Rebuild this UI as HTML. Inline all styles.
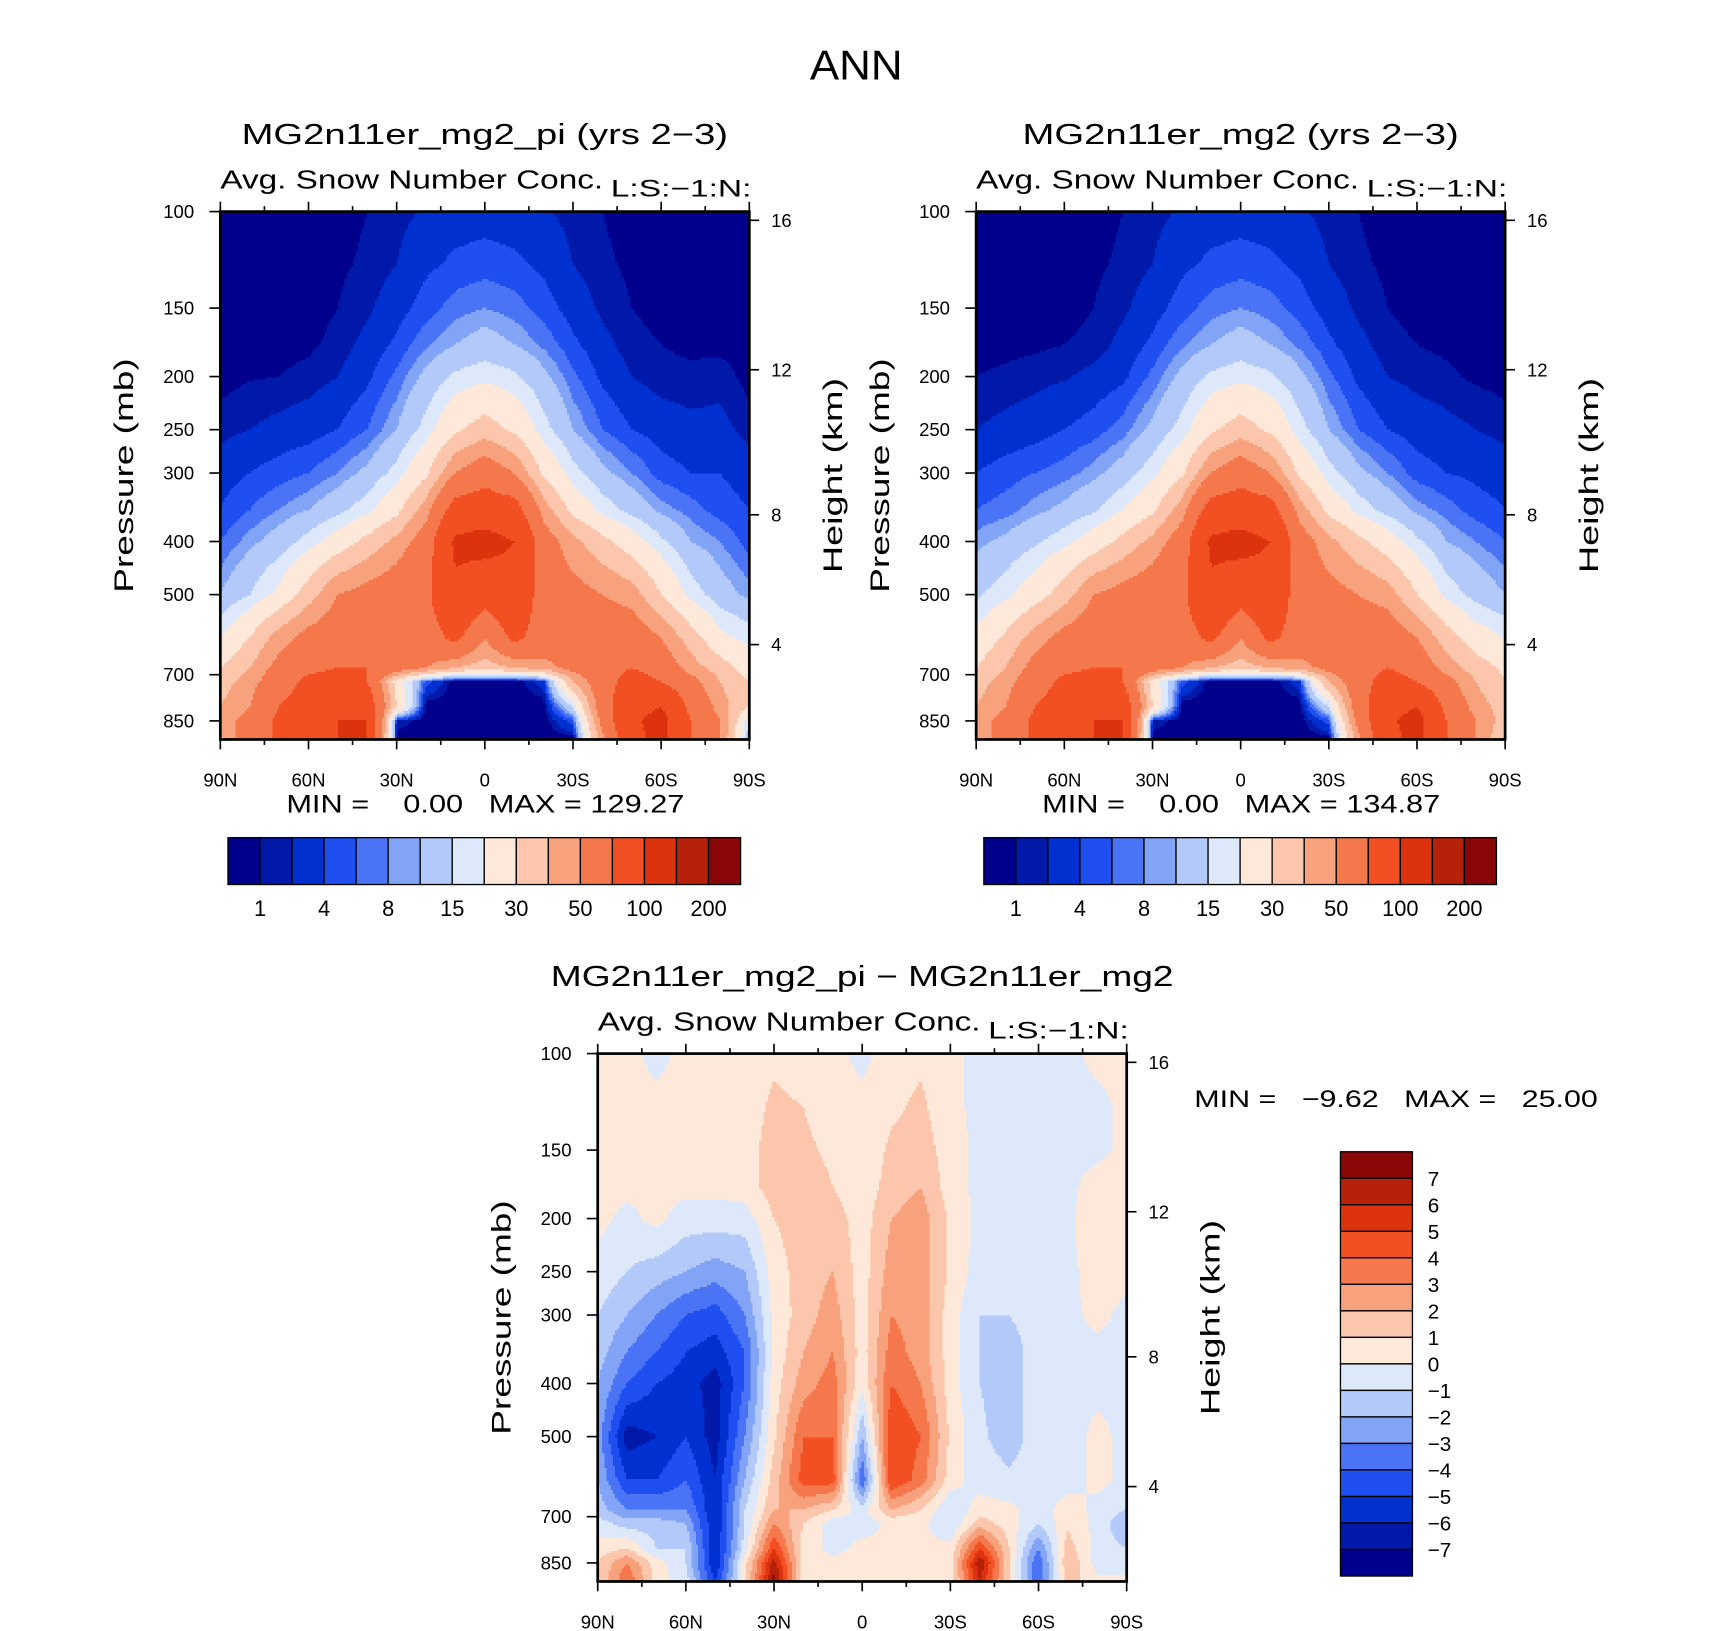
<!DOCTYPE html>
<html><head><meta charset="utf-8">
<style>
html,body{margin:0;padding:0;background:#fff;}
svg{display:block;font-family:"Liberation Sans","DejaVu Sans",sans-serif;}
</style></head>
<body>
<svg id="fig" width="1710" height="1631" viewBox="0 0 1567.8 1495.4" xmlns="http://www.w3.org/2000/svg">
<rect width="1567.8" height="1495.4" fill="#fff"/>
<text x="785" y="73" font-size="38" text-anchor="middle" textLength="85" lengthAdjust="spacingAndGlyphs">ANN</text>
<g id="layer"></g>
</svg>
<script>
// ---- data ----
const lats = [90,80,70,60,50,40,30,20,10,0,-10,-20,-30,-40,-50,-60,-70,-80,-90];
const plevs = [100,125,150,175,200,250,300,350,400,500,600,680,720,800,850,920];
const topLevels = [1,2,4,6,8,10,15,20,30,40,50,70,100,150,200];
const topLabels = ["1","4","8","15","30","50","100","200"];
const diffLevels = [-7,-6,-5,-4,-3,-2,-1,0,1,2,3,4,5,6,7];
const diffLabels = ["7","6","5","4","3","2","1","0","\u22121","\u22122","\u22123","\u22124","\u22125","\u22126","\u22127"];
const xTickLabels = ["90N","60N","30N","0","30S","60S","90S"];
const xTickLats = [90,60,30,0,-30,-60,-90];
const pTicks = [100,150,200,250,300,400,500,700,850];
const hTicks = [16,12,8,4];
const hTickOffsets = [8,145,278,397];
const fieldPi = [
[0.5,0.5,0.5,0.5,0.6,1,1.5,2.2,2.8,3,2.8,2.2,1.5,1,0.6,0.5,0.5,0.5,0.5],
[0.5,0.5,0.5,0.5,0.8,1.2,2,3.5,4.5,5,4.5,3.5,2,1.2,0.8,0.5,0.5,0.5,0.5],
[0.5,0.5,0.5,0.6,1,1.7,3,5,7,8,7,5,3,1.7,1,0.7,0.5,0.5,0.5],
[0.5,0.6,0.7,0.8,1.3,2.5,4.5,7.5,10,12,10,7.5,4.5,2.5,1.3,1,0.8,0.7,0.5],
[0.6,0.9,1,1.3,2,3.5,6.5,11,16,18,16,11,6.5,3.5,2,1.3,1.2,1.5,0.6],
[1.5,2,2.5,3,4,6,10,17,28,35,28,17,10,6,4,3,2.5,2.5,1.5],
[3,4,5,6,8,11,17,28,50,60,50,28,17,11,8,5,4,4,3],
[4,6,8,10,13,18,27,45,80,85,80,45,27,18,13,9,7,5,4],
[6,9,12,17,24,33,43,58,105,110,100,58,43,33,24,16,10,8,5],
[10,15,22,35,50,55,60,65,95,80,90,60,55,50,45,30,18,12,9],
[20,30,45,55,60,60,60,60,75,50,75,60,60,60,60,50,35,22,18],
[30,40,55,65,70,70,60,50,40,35,40,45,55,60,70,60,45,35,25],
[35,45,60,75,80,70,25,5,0,0,0,3,40,60,80,70,55,40,30],
[40,50,70,80,90,85,30,0,0,0,0,0,15,60,90,100,65,45,30],
[45,55,75,85,100,100,2,0,0,0,0,0,5,55,95,110,70,50,15],
[45,55,75,85,100,100,0,0,0,0,0,0,0,45,90,110,70,50,10]];
const fieldMg2 = [
[0.5,0.5,0.5,0.5,0.6,1,1.5,2.2,2.8,3,2.8,2.2,1.5,1,0.6,0.5,0.5,0.5,0.5],
[0.5,0.5,0.5,0.5,0.8,1.2,2,3.5,4.5,5,4.5,3.5,2,1.2,0.8,0.5,0.5,0.5,0.5],
[0.5,0.5,0.5,0.6,1,1.7,3,5,7,8,7,5,3,1.7,1,0.7,0.5,0.5,0.5],
[0.6,0.7,0.8,1,1.3,2.5,4.5,7.5,10,12,10,7.5,4.5,2.5,1.3,1,0.8,0.7,0.5],
[1,1.2,1.5,1.8,2.5,3.5,6.5,11,16,18,16,11,6.5,3.5,2,1.5,1.2,0.8,0.6],
[2,2.5,3,4,5,7,11,17,28,35,28,17,10,6,4,3,2.5,2,1.5],
[4,5,6,7,9,12,18,28,50,60,50,28,17,11,8,5,4,3.5,3],
[6,7,9,11,14,20,28,45,80,85,80,45,27,18,13,9,7,5,4],
[9,11,14,18,24,33,43,58,105,110,100,58,43,33,24,16,10,8,6],
[14,18,25,35,50,55,60,65,95,80,90,60,55,50,45,30,18,13,10],
[22,32,45,55,60,60,60,60,75,50,75,60,60,60,60,50,35,24,20],
[30,40,55,65,70,70,60,50,40,35,40,45,55,60,70,60,45,35,28],
[35,45,60,75,80,70,25,5,0,0,0,3,40,60,80,70,55,40,30],
[40,50,70,80,90,85,30,0,0,0,0,0,15,60,90,100,65,45,35],
[45,55,75,85,100,100,2,0,0,0,0,0,5,55,95,110,70,50,35],
[45,55,75,85,100,100,0,0,0,0,0,0,0,45,90,110,70,50,30]];
const fieldDiff = [
[0.3,0.3,-0.3,0.3,0.3,0.5,0.8,0.5,0.3,-0.3,0.5,0.8,0.3,-0.3,-0.3,-0.3,-0.3,0.3,0.3],
[0.3,0.3,0.3,0.3,0.3,0.5,1.2,1,0.5,0.3,0.8,1.2,0.3,-0.3,-0.3,-0.3,-0.3,-0.3,0.3],
[0.3,0.3,0.3,0.3,0.3,0.5,1.5,1.2,0.8,0.3,1.2,1.5,0.5,-0.3,-0.3,-0.3,-0.3,-0.3,0.3],
[0.3,0.3,0.3,0.3,0.3,0.5,1.5,1.5,1,0.3,1.5,2,0.5,-0.3,-0.3,-0.3,-0.3,0.5,0.3],
[0.3,-0.3,0.3,-0.5,-0.5,-0.5,1,1.5,1.5,0.5,2,2.5,0.8,-0.3,-0.5,-0.3,-0.3,1,0.3],
[-0.3,-1,-1.5,-2,-2.5,-2,0.5,1.5,2,0.5,2.5,2.5,0.8,-0.5,-0.5,-0.3,-0.3,0.5,0.3],
[-1,-2,-3,-4,-4.5,-3,0.3,1.5,2.5,0.5,3,2.5,0.5,-1,-1,-0.5,-0.3,0.3,-0.3],
[-1.5,-3,-4,-5,-5.5,-4,0.3,2,3,0.5,3.5,2.5,0.5,-1,-1.5,-0.5,-0.3,-0.3,-0.3],
[-2,-4,-5,-5.5,-6.5,-4,0.5,2.5,3.5,0.3,4,3,0.5,-1,-1.5,-0.5,-0.3,-0.3,-0.3],
[-2.5,-6.5,-6,-5,-6.5,-3,0.8,4,4,-2,5,4,0.8,-0.8,-1.5,-0.5,-0.5,0.3,-0.3],
[-2,-5,-5,-4,-6,-2,1.5,4.5,4.5,-4,5,3.5,0.5,-0.5,-0.8,-0.5,-0.5,0.3,-0.3],
[-1.5,-3,-3,-3,-6,-1,2,2,1,-0.5,2,1,-1,0.5,0.3,-0.5,0.5,-0.3,-1],
[-0.5,-1.5,-1.5,-2,-6,-1,3,1,-0.5,-0.5,0.3,0.3,-1,1.5,0.5,-1,0.8,-0.3,-2],
[0.5,1,-1,-1,-6,-0.5,5,0.5,-0.3,0.3,0.3,0.3,0.3,5,1,-3,1.5,-0.5,-1],
[1,3,0.5,-1,-6,0.5,6.5,0.5,0.3,0.3,0.3,0.3,0.3,7,1,-4,2,-0.5,-0.5],
[1,4,0.5,-0.5,-5,0.5,7.5,0.5,0.3,0.3,0.3,0.3,0.3,6,1,-4,1.5,0.3,0.3]];

const palette = ['#00008c','#0019a8','#0030d0','#1f4ff0','#4a74f5','#82a4f6','#b3c9f9','#dde9fb','#fde8da','#fbc6ab','#f8a27d','#f4784c','#f24f22','#dc330e','#b52109','#8a0707'];

const NS = "http://www.w3.org/2000/svg";
const layer = document.getElementById('layer');
function mk(tag, attrs, parent, txt){
  const e = document.createElementNS(NS, tag);
  for (const k in attrs) e.setAttribute(k, attrs[k]);
  if (txt !== undefined) e.textContent = txt;
  (parent||layer).appendChild(e);
  return e;
}
const W = 485, H = 484, K = 218.2;
function xScale(left, lat){ return left + (90 - lat) / 180 * W; }
function yScale(top, p){ return top + K * Math.log(p / 100); }
function pFromY(top, y){ return 100 * Math.exp((y - top) / K); }
function levelIndex(levels, v){ let i = 0; while (i < levels.length && v >= levels[i]) i++; return i; }
function sample(field, lat, p){
  let ci = 0; while (ci < lats.length - 2 && lat < lats[ci + 1]) ci++;
  let tx = (lats[ci] - lat) / (lats[ci] - lats[ci + 1]); tx = Math.max(0, Math.min(1, tx));
  const lp = Math.log(p);
  let ri = 0; while (ri < plevs.length - 2 && lp > Math.log(plevs[ri + 1])) ri++;
  let ty = (lp - Math.log(plevs[ri])) / (Math.log(plevs[ri + 1]) - Math.log(plevs[ri])); ty = Math.max(0, Math.min(1, ty));
  const a = field[ri][ci], b = field[ri][ci + 1], c = field[ri + 1][ci], d = field[ri + 1][ci + 1];
  return (a * (1 - tx) + b * tx) * (1 - ty) + (c * (1 - tx) + d * tx) * ty;
}
function txt(parent, name, attrs, s, len){
  const t = mk('text', attrs, parent, s);
  if (len){ t.setAttribute('textLength', len); t.setAttribute('lengthAdjust', 'spacingAndGlyphs'); }
  
  
  return t;
}

function panel(name, left, top, field, levels, title, titleLen){
  const g = mk('g', {});
  
  
  const fg = mk('g', {'shape-rendering':'crispEdges'}, g);
  
  
  const step = 2, nx = Math.ceil(W / step);
  for (let y = top; y < top + H; y += step){
    const p = pFromY(top, y + step / 2);
    const h = Math.min(step + 0.3, top + H - y);
    let runStart = 0, runIdx = -1;
    for (let i = 0; i <= nx; i++){
      let idx = -2;
      if (i < nx){
        const lat = 90 - Math.min((i + 0.5) * step, W) / W * 180;
        idx = levelIndex(levels, sample(field, lat, p));
      }
      if (idx !== runIdx){
        if (runIdx >= 0){
          const x0 = left + runStart * step, x1 = Math.min(left + i * step, left + W);
          const r = mk('rect', {x: x0, y: y, width: x1 - x0 + 0.3, height: h, fill: palette[runIdx]}, fg);
          
          
        }
        runStart = i; runIdx = idx;
      }
    }
  }
  const frame = mk('rect', {x: left, y: top, width: W, height: H, fill: 'none', stroke: '#000', 'stroke-width': 2.5}, g);
  
  
  for (let lat = 90; lat >= -90; lat -= 15){
    const x = xScale(left, lat), major = lat % 30 === 0;
    const len = major ? 9 : 5;
    mk('line', {x1: x, x2: x, y1: top + H, y2: top + H + len, stroke: '#000', 'stroke-width': 1.5}, g);
    mk('line', {x1: x, x2: x, y1: top, y2: top - len, stroke: '#000', 'stroke-width': 1.5}, g);
  }
  xTickLats.forEach((lat, i) => {
    txt(g, 'x-tick-label', {x: xScale(left, lat), y: top + H + 43, 'font-size': 17, 'text-anchor': 'middle'}, xTickLabels[i]);
  });
  pTicks.forEach(p => {
    const y = yScale(top, p);
    mk('line', {x1: left - 10, x2: left, y1: y, y2: y, stroke: '#000', 'stroke-width': 1.5}, g);
    txt(g, 'pressure-tick-label', {x: left - 24, y: y + 6, 'font-size': 17, 'text-anchor': 'end'}, String(p));
  });
  hTicks.forEach((h, i) => {
    const y = top + hTickOffsets[i];
    mk('line', {x1: left + W, x2: left + W + 9, y1: y, y2: y, stroke: '#000', 'stroke-width': 1.5}, g);
    txt(g, 'height-tick-label', {x: left + W + 20, y: y + 6, 'font-size': 17}, String(h));
  });
  txt(g, 'y-axis-title', {x: 0, y: 0, 'font-size': 25, 'text-anchor': 'middle', transform: `translate(${left - 80},${top + 242}) rotate(-90)`}, 'Pressure (mb)', 215);
  txt(g, 'right-axis-title', {x: 0, y: 0, 'font-size': 25, 'text-anchor': 'middle', transform: `translate(${left + W + 85},${top + 242}) rotate(-90)`}, 'Height (km)', 179);
  txt(g, 'variable-title', {x: left, y: top - 21, 'font-size': 24}, 'Avg. Snow Number Conc.', 351);
  txt(g, 'units-label', {x: left + W + 2, y: top - 14, 'font-size': 22, 'text-anchor': 'end'}, 'L:S:\u22121:N:', 129);
  txt(g, 'panel-title', {x: left + W / 2, y: top - 62, 'font-size': 26, 'text-anchor': 'middle'}, title, titleLen);
}

function hbar(name, left, top, minmax){
  const g = mk('g', {});
  
  
  const bw = 470 / 16;
  for (let i = 0; i < 16; i++){
    const r = mk('rect', {x: left + i * bw, y: top, width: bw, height: 43, fill: palette[i], stroke: '#000', 'stroke-width': 1.2}, g);
    
    
  }
  topLabels.forEach((lab, k) => {
    txt(g, 'colorbar-label', {x: left + bw * (1 + 2 * k), y: top + 72, 'font-size': 20, 'text-anchor': 'middle'}, lab);
  });
  const m = txt(g, 'min-max-label', {x: left + 236, y: top - 23, 'font-size': 23, 'text-anchor': 'middle'}, minmax, 365);
  m.style.whiteSpace = 'pre';
}

panel('panel-mg2-pi', 202, 194, fieldPi, topLevels, 'MG2n11er_mg2_pi (yrs 2\u22123)', 446);
panel('panel-mg2', 895, 194, fieldMg2, topLevels, 'MG2n11er_mg2 (yrs 2\u22123)', 400);
panel('panel-diff', 548, 966, fieldDiff, diffLevels, 'MG2n11er_mg2_pi \u2212 MG2n11er_mg2', 571);
hbar('colorbar-mg2-pi', 209, 768, 'MIN =    0.00   MAX = 129.27');
hbar('colorbar-mg2', 902, 768, 'MIN =    0.00   MAX = 134.87');

const vg = mk('g', {});


const bh = 389 / 16;
for (let i = 0; i < 16; i++){
  const r = mk('rect', {x: 1229, y: 1056 + i * bh, width: 66, height: bh, fill: palette[15 - i], stroke: '#000', 'stroke-width': 1.2}, vg);
  
  
}
diffLabels.forEach((lab, k) => {
  txt(vg, 'colorbar-label', {x: 1309, y: 1056 + bh * (k + 1) + 7, 'font-size': 19}, lab);
});
const dm = txt(vg, 'min-max-label', {x: 1095, y: 1015, 'font-size': 22}, 'MIN =   \u22129.62   MAX =   25.00', 370);
dm.style.whiteSpace = 'pre';
</script>
</body></html>
